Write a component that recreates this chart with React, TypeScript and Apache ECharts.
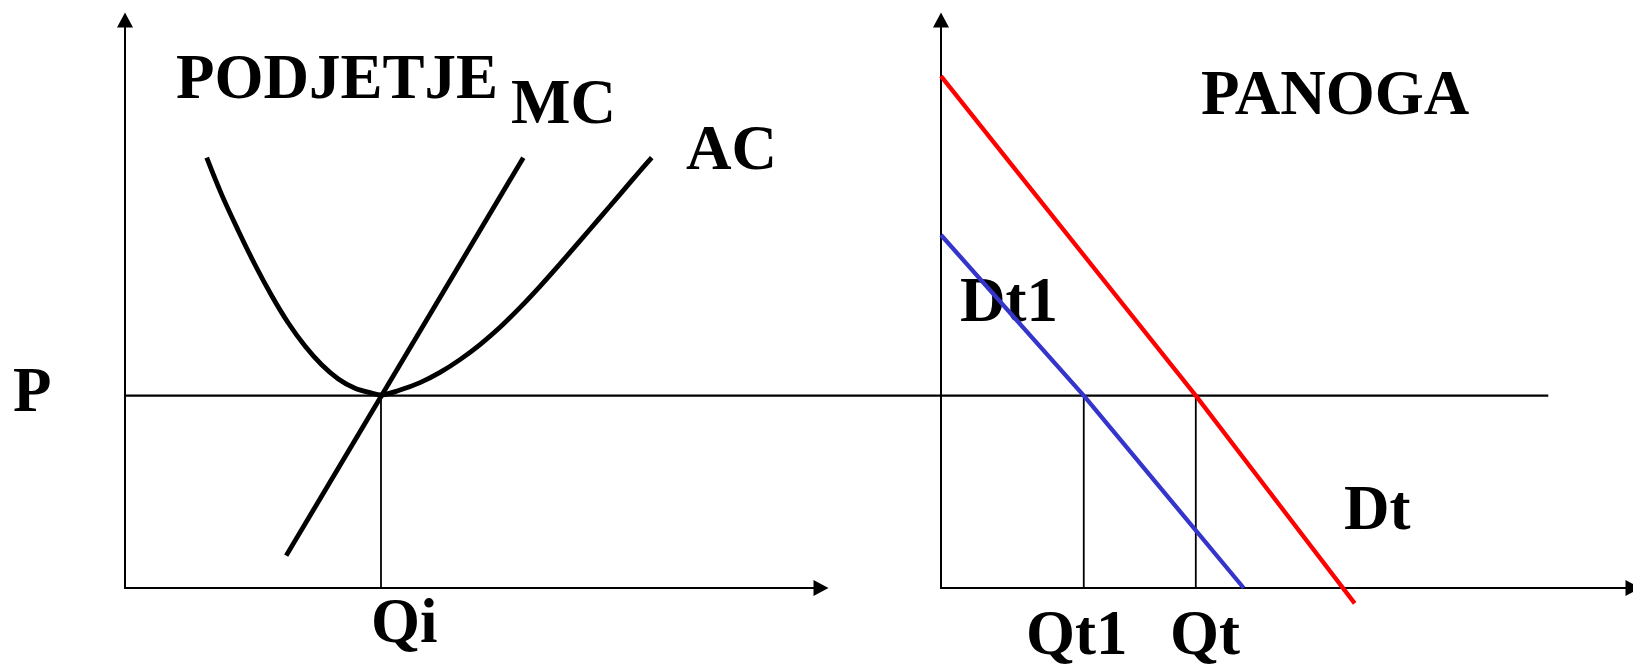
import React, { useEffect, useRef } from "react";
import * as echarts from "echarts";

// ---- data (in abstract price / quantity units) ----
const P_LEVEL = 3.386;
const P_LINE_END = 20.45; // horizontal price line runs on into the industry panel
const QI = 3.678;

const MC_X = [2.316, 5.723];
const MC_Y = [0.57, 7.576];

const AC_X = [1.174, 1.389, 1.628, 1.868, 2.108, 2.346, 2.586, 2.826, 3.065, 3.305, 3.545, 3.678,
  3.951, 4.239, 4.526, 4.813, 5.101, 5.388, 5.675, 5.963, 6.25, 6.537, 6.825, 7.112, 7.399, 7.568];
const AC_Y = [7.576, 6.926, 6.291, 5.691, 5.146, 4.666, 4.261, 3.931, 3.681, 3.516, 3.431, 3.4,
  3.486, 3.616, 3.796, 4.021, 4.286, 4.591, 4.936, 5.311, 5.706, 6.111, 6.521, 6.931, 7.341, 7.576];

const DT_X = [0, 3.682, 5.978];
const DT_Y = [9.012, 3.386, -0.27];

const DT1_X = [0, 2.063, 4.374];
const DT1_Y = [6.215, 3.386, 0];

const QT1 = 2.063;
const QT = 3.682;

const LABELS = ["PODJETJE", "MC", "AC", "P", "Qi", "PANOGA", "Dt1", "Dt", "Qt1", "Qt"];

const zip = (xs: number[], ys: number[]) => xs.map((x, i) => [x, ys[i]]);

export default function App() {
  const ref = useRef<HTMLDivElement>(null);

  useEffect(() => {
    if (!ref.current) return;
    const chart = echarts.init(ref.current, undefined, { renderer: "svg" });

    const axisCommon = {
      type: "value" as const,
      min: 0,
      max: 10,
      axisTick: { show: false },
      axisLabel: { show: false },
      splitLine: { show: false },
    };
    const axisLine = {
      show: true,
      onZero: true,
      symbol: ["none", "triangle"],
      symbolSize: [16, 15],
      lineStyle: { color: "#000", width: 2 },
    };
    const hiddenAxis = {
      type: "value" as const,
      show: false,
      splitLine: { show: false },
    };

    const font = "bold 63px 'Liberation Serif', 'Times New Roman', serif";
    const labelPos: [number, number][] = [
      [176, 77],
      [511, 102],
      [686, 148],
      [13, 390],
      [371, 621],
      [1201, 93],
      [960, 300],
      [1344, 508],
      [1026, 633],
      [1170, 633],
    ];

    const line = (
      data: number[][],
      gi: number,
      color: string,
      width: number,
      extra: any = {}
    ) => ({
      type: "line",
      xAxisIndex: gi,
      yAxisIndex: gi,
      data,
      symbol: "none",
      clip: false,
      silent: true,
      lineStyle: { color, width },
      ...extra,
    });

    chart.setOption({
      animation: false,
      backgroundColor: "#fff",
      grid: [
        { left: 125, top: 20, width: 696, height: 568 },
        { left: 941, top: 20, width: 695, height: 568 },
        { left: 125, top: 20, width: 1423.3, height: 568 },
      ],
      xAxis: [
        { ...axisCommon, gridIndex: 0, axisLine },
        { ...axisCommon, gridIndex: 1, axisLine },
        { ...hiddenAxis, gridIndex: 2, min: 0, max: P_LINE_END },
      ],
      yAxis: [
        { ...axisCommon, gridIndex: 0, axisLine },
        { ...axisCommon, gridIndex: 1, axisLine },
        { ...hiddenAxis, gridIndex: 2, min: 0, max: 10 },
      ],
      series: [
        line([[0, P_LEVEL], [P_LINE_END, P_LEVEL]], 2, "#000", 2.2),
        line([[QI, 0], [QI, P_LEVEL]], 0, "#000", 1.8),
        line(zip(MC_X, MC_Y), 0, "#000", 4.8),
        line(zip(AC_X, AC_Y), 0, "#000", 4.8, { smooth: 0.35 }),
        line([[QT1, 0], [QT1, P_LEVEL]], 1, "#000", 1.8),
        line([[QT, 0], [QT, P_LEVEL]], 1, "#000", 1.8),
        line(zip(DT1_X, DT1_Y), 1, "#3535cc", 4.3),
        line(zip(DT_X, DT_Y), 1, "#ff0000", 4.3),
      ],
      graphic: LABELS.map((t, i) => ({
        type: "text",
        x: labelPos[i][0],
        y: labelPos[i][1],
        silent: true,
        style: {
          text: t,
          font,
          fill: "#000",
          align: "left",
          verticalAlign: "middle",
        },
      })),
    });

    return () => chart.dispose();
  }, []);

  return (
    <div
      ref={ref}
      style={{ position: "absolute", left: 0, top: 0, width: 1633, height: 670, background: "#fff" }}
    />
  );
}
